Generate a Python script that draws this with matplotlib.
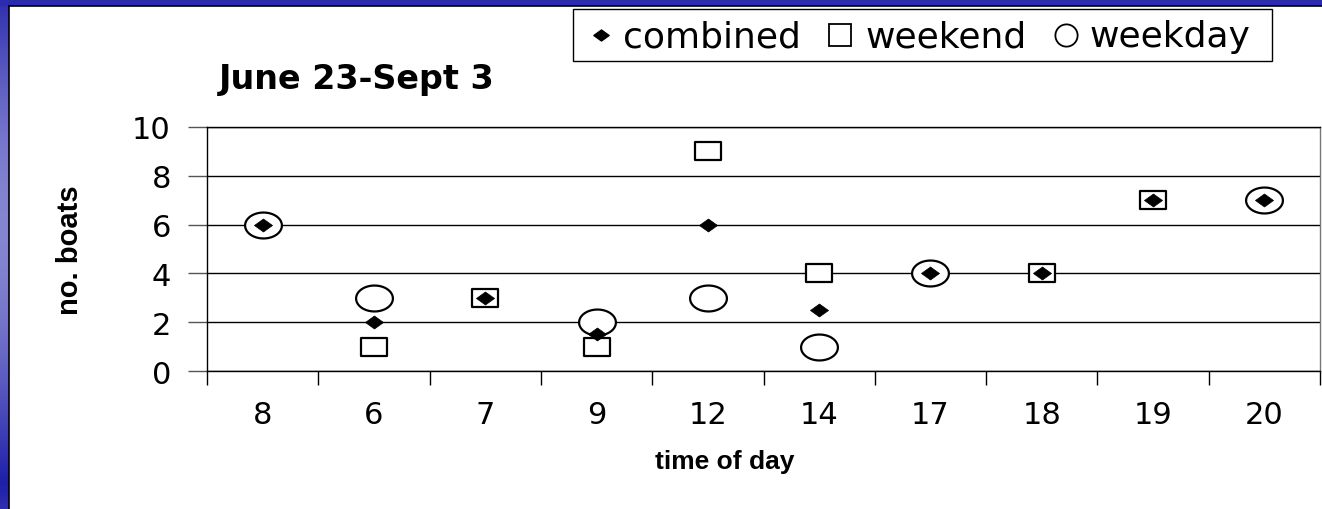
import numpy as np
import matplotlib
matplotlib.use("Agg")
import matplotlib.pyplot as plt
from matplotlib.path import Path

categories = ["8", "6", "7", "9", "12", "14", "17", "18", "19", "20"]
combined = [6, 2, 3, 1.5, 6, 2.5, 4, 4, 7, 7]
weekend = [np.nan, 1, 3, 1, 9, 4, np.nan, 4, 7, np.nan]
weekday = [6, 3, np.nan, 2, 3, 1, 4, np.nan, np.nan, 7]
yticks = [0, 2, 4, 6, 8, 10]
legend_labels = ["combined", "weekend", "weekday"]

plt.rcParams['font.family'] = ['Liberation Sans', 'DejaVu Sans']
WIDE = ['DejaVu Sans']

W, H = 1322, 510
fig = plt.figure(figsize=(W / 100, H / 100), dpi=100)
fig.patch.set_facecolor('white')

# overlay axes in pixel coordinates (y downward)
ov = fig.add_axes([0, 0, 1, 1], zorder=-10)
ov.set_axis_off()
ov.set_xlim(0, W)
ov.set_ylim(H, 0)
prof = np.abs(np.sin(np.linspace(0.2, 3.3, 256)))
col_dark = np.array([0.12, 0.12, 0.66])
col_light = np.array([0.52, 0.52, 0.82])
img = (col_dark[None, :] + (col_light - col_dark)[None, :] * prof[:, None])[:, None, :]
ov.imshow(img, extent=[0, 9, H, 7], aspect='auto', zorder=0)
ov.add_patch(plt.Rectangle((0, 0), W, 7, color=(0.17, 0.17, 0.68), lw=0, zorder=1))
ov.plot([9, 9], [7, H], color='black', lw=1.2, zorder=2)
ov.plot([9, W], [7, 7], color='black', lw=1.2, zorder=2)

L, R, T, B = 207, 1320, 128, 372
ax = fig.add_axes([L / W, (H - B) / H, (R - L) / W, (B - T) / H])
x = np.arange(len(categories))

t = np.linspace(0, 2 * np.pi, 80)
ell = Path(np.c_[1.42 * np.cos(t), np.sin(t)], closed=True)
sq = Path([(-1.37, -1), (1.37, -1), (1.37, 1), (-1.37, 1), (-1.37, -1)], closed=True)
dia = Path([(0, -0.72), (1, 0), (0, 0.72), (-1, 0), (0, -0.72)], closed=True)

ax.plot(x, weekday, linestyle='none', marker=ell, markersize=26.5, markerfacecolor='white',
        markeredgecolor='black', markeredgewidth=1.6, zorder=3)
ax.plot(x, weekend, linestyle='none', marker=sq, markersize=18.5, markerfacecolor='white',
        markeredgecolor='black', markeredgewidth=1.6, zorder=4)
ax.plot(x, combined, linestyle='none', marker=dia, markersize=13, markerfacecolor='black',
        markeredgecolor='black', markeredgewidth=0.5, zorder=5)

ax.set_xlim(-0.5, len(categories) - 0.5)
ax.set_ylim(0, 10)
ax.set_yticks(yticks)
ax.set_yticklabels([str(v) for v in yticks], fontsize=22, family=WIDE)
ax.yaxis.grid(True, color='black', lw=1)
ax.set_axisbelow(True)
ax.set_xticks(x)
ax.set_xticklabels(categories, fontsize=22, family=WIDE)
ax.tick_params(axis='x', length=0, pad=21)
ax.set_xticks(np.arange(-0.5, len(categories)), minor=True)
ax.tick_params(axis='x', which='minor', length=10, width=1, color='black')
ax.tick_params(axis='y', length=14, width=1, color='#555555', pad=12, direction='out')
for s in ax.spines.values():
    s.set_color('black')
    s.set_linewidth(1)
ax.spines['right'].set_color('#777777')

ov.text(70, 250, 'no. boats', rotation=90, fontsize=21, fontweight='bold',
        ha='center', va='center', zorder=5)
ov.text(725, 462, 'time of day', fontsize=19, fontweight='bold',
        ha='center', va='center', zorder=5)
ov.text(219, 79, 'June 23-Sept 3', fontsize=24, fontweight='bold', family=WIDE,
        ha='left', va='center', zorder=5)

# legend drawn by hand
ov.add_patch(plt.Rectangle((573, 10), 699, 52, facecolor='white', edgecolor='black',
                           lw=1, zorder=5))
ly = 36
ov.plot([601], [ly], linestyle='none', marker=dia, markersize=11, color='black', zorder=6)
ov.plot([840], [ly], linestyle='none', marker='s', markersize=16, markerfacecolor='white',
        markeredgecolor='black', markeredgewidth=1.3, zorder=6)
ov.plot([1066], [ly], linestyle='none', marker='o', markersize=16, markerfacecolor='white',
        markeredgecolor='black', markeredgewidth=1.3, zorder=6)
for xt, lab in zip([623, 865, 1089], legend_labels):
    ov.text(xt, ly + 1, lab, fontsize=26, family=WIDE, ha='left', va='center', zorder=6)

fig.savefig('out.png', dpi=100)
